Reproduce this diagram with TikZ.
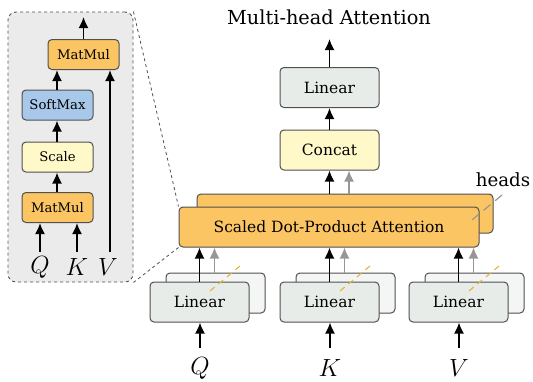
\documentclass[tikz,border=0pt]{standalone}
\usepackage{fontspec}
\setmainfont{DejaVu Serif}
\usetikzlibrary{arrows.meta}
\definecolor{orng}{RGB}{252,197,100}
\definecolor{lingr}{RGB}{231,236,233}
\definecolor{lingrb}{RGB}{244,246,245}
\definecolor{smblue}{RGB}{168,200,234}
\definecolor{scyel}{RGB}{255,248,200}
\definecolor{insetbg}{RGB}{235,235,235}
\definecolor{bord}{RGB}{80,80,80}
\definecolor{slashor}{RGB}{230,180,50}
\definecolor{arrgray}{RGB}{150,150,150}
\tikzset{
  blk/.style={draw=bord, line width=1pt, rounded corners=4pt, inner sep=0pt, align=center},
  big/.style={blk, minimum width=99pt, minimum height=40pt, font=\fontsize{15.5}{18}\selectfont},
  small/.style={blk, minimum width=71pt, minimum height=30pt, font=\fontsize{13.2}{15}\selectfont},
  arr/.style={line width=1.7pt, -{Latex[length=11pt,width=10pt]}},
  garr/.style={arr, draw=arrgray, color=arrgray},
  orslash/.style={draw=slashor, line width=1.1pt, dash pattern=on 6pt off 5pt},
  grslash/.style={draw=arrgray, line width=1.2pt, dash pattern=on 9pt off 6pt},
}
\begin{document}
\begin{tikzpicture}[x=1pt,y=-1pt]
\useasboundingbox (0,0) rectangle (533,381);
% ---------- inset ----------
\node[draw=bord, dashed, line width=0.9pt, fill=insetbg, rounded corners=8pt,
      minimum width=125pt, minimum height=270pt, inner sep=0pt] (inset) at (70.5,147) {};
\node[small, fill=orng] (mm2) at (83.5,54.5) {MatMul};
\node[small, fill=smblue] (sm) at (57.5,105) {SoftMax};
\node[small, fill=scyel] (sc) at (57.5,157) {Scale};
\node[small, fill=orng] (mm1) at (57.5,207.5) {MatMul};
\node[font=\fontsize{23}{25}\selectfont] (iQ) at (40,267) {$Q$};
\node[font=\fontsize{23}{25}\selectfont] (iK) at (77,267) {$K$};
\node[font=\fontsize{23}{25}\selectfont] (iV) at (108,267) {$V$};
\coordinate (iQs) at (40,252);
\coordinate (iKs) at (77,252);
\coordinate (iVs) at (110,252);
\coordinate (mmout) at (83.5,17);
\draw[arr] (iQs) -- (iQs |- mm1.south);
\draw[arr] (iKs) -- (iKs |- mm1.south);
\draw[arr] (iVs) -- (iVs |- mm2.south);
\draw[arr] (mm1.north -| 57,0) -- (sc.south -| 57,0);
\draw[arr] (sc.north -| 57,0) -- (sm.south -| 57,0);
\draw[arr] (sm.north -| 57,0) -- (mm2.south -| 57,0);
\draw[arr] (mm2.north) -- (mmout);
% ---------- main ----------
\node[font=\fontsize{19.3}{22}\selectfont] (title) at (329,17) {Multi-head Attention};
\node[big, fill=lingr] (lin) at (329.5,87.5) {Linear};
\node[big, fill=scyel] (cat) at (329.5,150) {Concat};
\node[blk, fill=orng, minimum width=296pt, minimum height=39pt] (sdb) at (345,213.5) {};
\node[big, fill=orng, minimum width=300pt] (sdf) at (329,227) {Scaled Dot-Product Attention};
\node[font=\fontsize{18.2}{21}\selectfont] (heads) at (503,180) {heads};
\coordinate (topout) at (329.5,39);
\draw[arr] (lin.north) -- (topout);
\draw[arr] (cat.north) -- (lin.south);
\draw[arr] (sdb.north -| 329.5,0) -- (cat.south -| 329.5,0);
\draw[garr] (sdb.north -| 349,0) -- (cat.south -| 349,0);
% dashed zoom lines
\draw[dashed, draw=bord, line width=0.8pt] (inset.north east) -- (sdf.north west);
\draw[dashed, draw=bord, line width=0.8pt] (inset.south east) -- (sdf.south west);
% heads slash
\coordinate (hs1) at (502,195);
\coordinate (hs2) at (472,220);
\draw[grslash] (hs1) -- (hs2);
% linear groups
\foreach \n/\cx/\lab in {q/199.5/Q, k/329.5/K, v/458.5/V}{
  \node[big, fill=lingrb] (lb\n) at (\cx+16,293) {};
  \node[big, fill=lingr] (lf\n) at (\cx,302) {Linear};
  \node[font=\fontsize{27}{29}\selectfont] (in\n) at (\cx+0.5,368) {$\lab$};
  \coordinate (ins\n) at (\cx+0.5,348);
  \draw[arr] (ins\n) -- (ins\n |- lf\n.south);
  \draw[arr] (lf\n.north) -- (lf\n.north |- sdf.south);
  \draw[garr] (lb\n.north -| \cx+15,0) -- (sdf.south -| \cx+15,0);
  \coordinate (os\n a) at (\cx+40.5,266);
  \coordinate (os\n b) at (\cx+10.5,291);
  \draw[orslash] (os\n a) -- (os\n b);
}
\end{tikzpicture}
\end{document}
